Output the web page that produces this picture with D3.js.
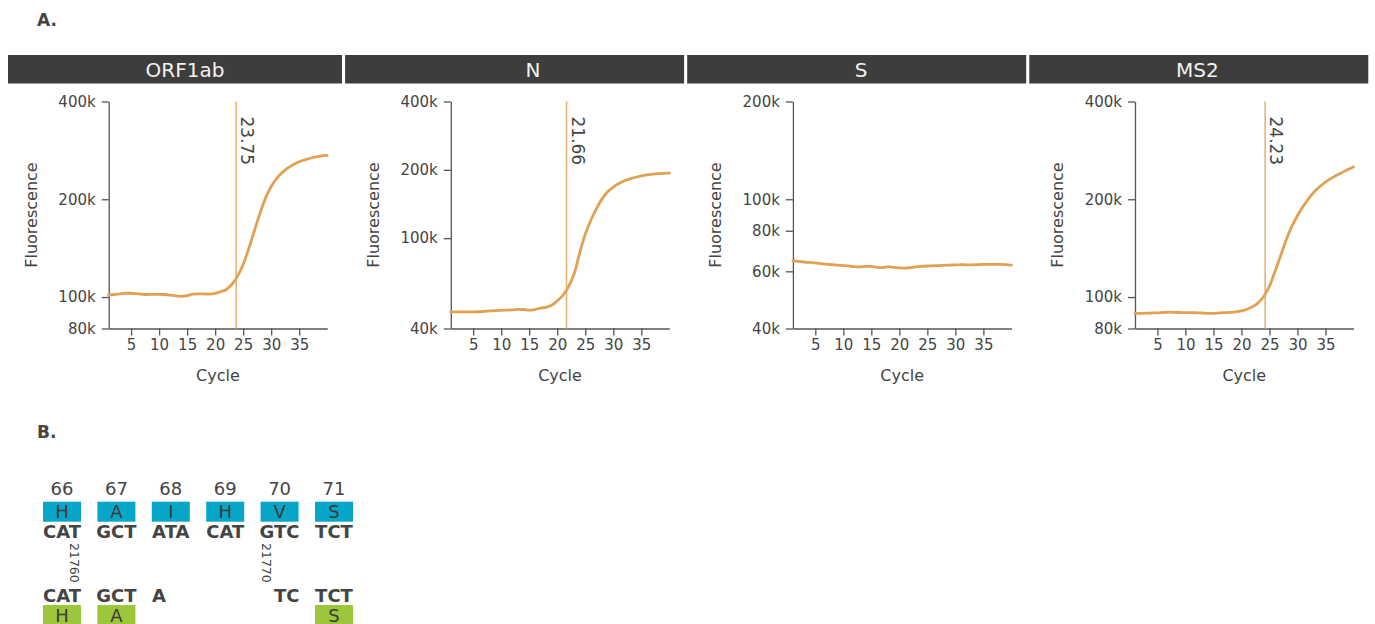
<!DOCTYPE html>
<html>
<head>
<meta charset="utf-8">
<script src="https://cdn.jsdelivr.net/npm/d3@7"></script>
<style>
  html, body { margin: 0; padding: 0; background: #fff; }
  svg { display: block; }
</style>
</head>
<body>
<div id="chart"></div>
<script>
(function () {
  'use strict';

  // ── Data: panel A (amplification curves, fluorescence per cycle) ──
  var GENES = ['ORF1ab', 'N', 'S', 'MS2'];
  var CYCLES = d3.range(1, 41);
  var CT_VALUES = [23.75, 21.66, null, 24.23];
  var Y_DOMAINS = [[80e3, 400e3], [40e3, 400e3], [40e3, 200e3], [80e3, 400e3]];
  var Y_TICKS = [
    [80e3, 100e3, 200e3, 400e3],
    [40e3, 100e3, 200e3, 400e3],
    [40e3, 60e3, 80e3, 100e3, 200e3],
    [80e3, 100e3, 200e3, 400e3]
  ];
  var X_TICKS = [5, 10, 15, 20, 25, 30, 35];

  // values in thousands
  var ORF1AB = [101.5, 101.8, 102.3, 102.7, 102.7, 102.4, 102.0, 101.8, 101.9, 101.9,
    101.8, 101.4, 100.8, 100.5, 101.0, 102.0, 102.3, 102.2, 102.1, 102.6,
    103.9, 105.5, 109.5, 116, 126, 141, 160, 181, 202, 219,
    232, 242, 250, 256, 261, 264.5, 267.5, 270, 272, 273];
  var N_GENE = [47.3, 47.3, 47.3, 47.3, 47.3, 47.4, 47.6, 47.8, 48.0, 48.1,
    48.2, 48.3, 48.6, 48.5, 48.2, 48.5, 49.2, 49.6, 50.6, 53.0,
    56.0, 61, 69.5, 86, 104, 120, 135, 149, 160, 168,
    174, 179, 182.5, 185.5, 188, 190, 191.3, 192.3, 193, 193.5];
  var S_GENE = [64.6, 64.4, 64.1, 63.9, 63.7, 63.4, 63.1, 62.9, 62.7, 62.5,
    62.3, 62.0, 61.9, 62.2, 62.1, 61.7, 61.6, 62.0, 61.7, 61.5,
    61.4, 61.6, 61.9, 62.2, 62.3, 62.4, 62.5, 62.6, 62.7, 62.8,
    62.9, 62.8, 62.8, 62.9, 63.0, 63.0, 63.0, 63.0, 62.9, 62.7];
  var MS2 = [89.0, 89.1, 89.2, 89.3, 89.4, 89.6, 89.8, 89.7, 89.6, 89.5,
    89.5, 89.4, 89.3, 89.1, 89.1, 89.3, 89.5, 89.7, 90.0, 90.6,
    91.7, 93.4, 96.0, 100.5, 108, 120, 134, 150, 165, 178,
    190, 201, 211, 219, 226, 232, 237, 242, 247, 251.5];
  var SERIES = [ORF1AB, N_GENE, S_GENE, MS2];

  // ── Data: panel B (sequence alignment) ──
  var AA_POSITIONS = [66, 67, 68, 69, 70, 71];
  var REF_AA = ['H', 'A', 'I', 'H', 'V', 'S'];
  var REF_CODONS = ['CAT', 'GCT', 'ATA', 'CAT', 'GTC', 'TCT'];
  var ALT_CODONS = ['CAT', 'GCT', 'A--', '---', '-TC', 'TCT'];
  var ALT_AA = ['H', 'A', '', '', '', 'S'];
  var NT_MARKS = [
    { pos: 21760, codon: 0, base: 2 },
    { pos: 21770, codon: 4, base: 0 }
  ];

  // ── Style ──
  var WIDTH = 1375;
  var HEIGHT = 624;
  var TEXT = '#444';
  var HEADER_BG = '#3d3d3d';
  var HEADER_TEXT = '#f2f2f2';
  var CURVE = '#e0a152';
  var CT_LINE = '#e6b477';
  var BLUE = '#07a6c8';
  var GREEN = '#9cc63c';
  var FONT = '"DejaVu Sans", Verdana, sans-serif';

  var FACET_X0 = 3;
  var FACET_STEP = 342.1;
  var HEADER = { top: 55, height: 28.5, width: 339 };
  var HEADER_TEXT_DX = [182, 188, 174, 168]; // title position inside each strip
  var PLOT = { offset: 105.7, width: 218.5, top: 101.5, bottom: 328.5 };

  var svg = d3.select('#chart').append('svg')
    .attr('width', WIDTH)
    .attr('height', HEIGHT)
    .attr('font-family', FONT);

  // ── Section letters ──
  svg.append('text').attr('x', 37).attr('y', 26)
    .attr('font-size', '17px').attr('font-weight', 'bold').attr('fill', TEXT).text('A.');
  svg.append('text').attr('x', 37).attr('y', 438)
    .attr('font-size', '17px').attr('font-weight', 'bold').attr('fill', TEXT).text('B.');

  var fmtK = function (d) { return (d / 1000) + 'k'; };

  // ── Panel A facets ──
  GENES.forEach(function (gene, i) {
    var fx = FACET_X0 + i * FACET_STEP;
    var barX = Math.max(8, fx);
    var barW = fx + HEADER.width - barX;

    svg.append('rect')
      .attr('x', barX).attr('y', HEADER.top)
      .attr('width', barW).attr('height', HEADER.height)
      .attr('fill', HEADER_BG);
    svg.append('text')
      .attr('x', fx + HEADER_TEXT_DX[i])
      .attr('y', HEADER.top + 22)
      .attr('text-anchor', 'middle')
      .attr('font-size', '20px')
      .attr('fill', HEADER_TEXT)
      .text(gene);

    var left = fx + PLOT.offset;
    var x = d3.scaleLinear().domain([1, 40]).range([left, left + PLOT.width]);
    var y = d3.scaleLog().domain(Y_DOMAINS[i]).range([PLOT.bottom, PLOT.top]);

    // axes
    var gx = svg.append('g')
      .attr('transform', 'translate(0,' + PLOT.bottom + ')')
      .call(d3.axisBottom(x).tickValues(X_TICKS).tickSize(7).tickSizeOuter(0).tickPadding(4));
    var gy = svg.append('g')
      .attr('transform', 'translate(' + left + ',0)')
      .call(d3.axisLeft(y).tickValues(Y_TICKS[i]).tickFormat(fmtK).tickSize(7).tickSizeOuter(0).tickPadding(6));
    [gx, gy].forEach(function (g) {
      g.selectAll('path, line').attr('stroke', '#555').attr('stroke-width', 1.3);
      g.selectAll('text').attr('fill', TEXT).attr('font-size', '15px').attr('font-family', FONT);
    });

    svg.append('text')
      .attr('transform', 'translate(' + (fx + 34) + ',' + ((PLOT.top + PLOT.bottom) / 2) + ') rotate(-90)')
      .attr('text-anchor', 'middle')
      .attr('font-size', '16px')
      .attr('fill', TEXT)
      .text('Fluorescence');
    svg.append('text')
      .attr('x', left + PLOT.width / 2)
      .attr('y', 381)
      .attr('text-anchor', 'middle')
      .attr('font-size', '16px')
      .attr('fill', TEXT)
      .text('Cycle');

    // Ct threshold line + label
    var ct = CT_VALUES[i];
    if (ct !== null) {
      svg.append('line')
        .attr('x1', x(ct)).attr('x2', x(ct))
        .attr('y1', PLOT.top).attr('y2', PLOT.bottom)
        .attr('stroke', CT_LINE).attr('stroke-width', 1.6);
      svg.append('text')
        .attr('transform', 'translate(' + (x(ct) + 5) + ',' + (PLOT.top + 15) + ') rotate(90)')
        .attr('font-size', '17px')
        .attr('fill', TEXT)
        .text(ct.toFixed(2));
    }

    // amplification curve
    var line = d3.line()
      .x(function (d, k) { return x(CYCLES[k]); })
      .y(function (d) { return y(d * 1000); })
      .curve(d3.curveMonotoneX);
    svg.append('path')
      .datum(SERIES[i])
      .attr('d', line)
      .attr('fill', 'none')
      .attr('stroke', CURVE)
      .attr('stroke-width', 2.8)
      .attr('stroke-linecap', 'round');
  });

  // ── Panel B: alignment ──
  var cx = d3.scalePoint().domain(AA_POSITIONS).range([62, 334]);
  var BOX_W = 38;
  var BOX_H = 20;
  var ROW = { num: 495, refBox: 501.7, refCodon: 538, mark: 543, altCodon: 601.7, altBox: 605 };
  var BASE_STEP = 12.8;

  var gB = svg.append('g');

  gB.selectAll('.aa-num')
    .data(AA_POSITIONS)
    .join('text')
    .attr('x', function (d) { return cx(d); })
    .attr('y', ROW.num)
    .attr('text-anchor', 'middle')
    .attr('font-size', '18px')
    .attr('fill', TEXT)
    .text(function (d) { return d; });

  function aaRow(letters, rowY, color) {
    var items = AA_POSITIONS.map(function (p, k) { return { pos: p, aa: letters[k] }; })
      .filter(function (d) { return d.aa; });
    gB.selectAll(null)
      .data(items)
      .join('rect')
      .attr('x', function (d) { return cx(d.pos) - BOX_W / 2; })
      .attr('y', rowY)
      .attr('width', BOX_W)
      .attr('height', BOX_H)
      .attr('fill', color);
    gB.selectAll(null)
      .data(items)
      .join('text')
      .attr('x', function (d) { return cx(d.pos); })
      .attr('y', rowY + 16.5)
      .attr('text-anchor', 'middle')
      .attr('font-size', '18px')
      .attr('fill', '#3a3a3a')
      .text(function (d) { return d.aa; });
  }
  aaRow(REF_AA, ROW.refBox, BLUE);
  aaRow(ALT_AA, ROW.altBox, GREEN);

  // reference codons (centred)
  var refText = gB.selectAll('.ref-codon')
    .data(REF_CODONS)
    .join('text')
    .attr('class', 'ref-codon')
    .attr('x', function (d, k) { return cx(AA_POSITIONS[k]); })
    .attr('y', ROW.refCodon)
    .attr('text-anchor', 'middle')
    .attr('font-size', '18px')
    .attr('font-weight', 'bold')
    .attr('fill', TEXT)
    .text(function (d) { return d; });

  var halfW = refText.nodes().map(function (n) { return n.getComputedTextLength() / 2; });

  // variant codons, aligned to the reference according to their gaps
  gB.selectAll('.alt-codon')
    .data(ALT_CODONS)
    .join('text')
    .attr('class', 'alt-codon')
    .attr('y', ROW.altCodon)
    .attr('font-size', '18px')
    .attr('font-weight', 'bold')
    .attr('fill', TEXT)
    .each(function (d, k) {
      var c = cx(AA_POSITIONS[k]);
      var s = d.replace(/-/g, '');
      var el = d3.select(this).text(s);
      if (d.charAt(0) !== '-' && d.charAt(2) === '-') {
        el.attr('x', c - halfW[k]).attr('text-anchor', 'start');
      } else if (d.charAt(0) === '-' && d.charAt(2) !== '-') {
        el.attr('x', c + halfW[k]).attr('text-anchor', 'end');
      } else {
        el.attr('x', c).attr('text-anchor', 'middle');
      }
    });

  // genome coordinate markers
  gB.selectAll('.nt-mark')
    .data(NT_MARKS)
    .join('text')
    .attr('class', 'nt-mark')
    .attr('transform', function (d) {
      var gx = cx(AA_POSITIONS[d.codon]) + (d.base - 1) * BASE_STEP - 5;
      return 'translate(' + gx + ',' + ROW.mark + ') rotate(90)';
    })
    .attr('font-size', '12.5px')
    .attr('fill', TEXT)
    .text(function (d) { return d.pos; });
})();
</script>
</body>
</html>
